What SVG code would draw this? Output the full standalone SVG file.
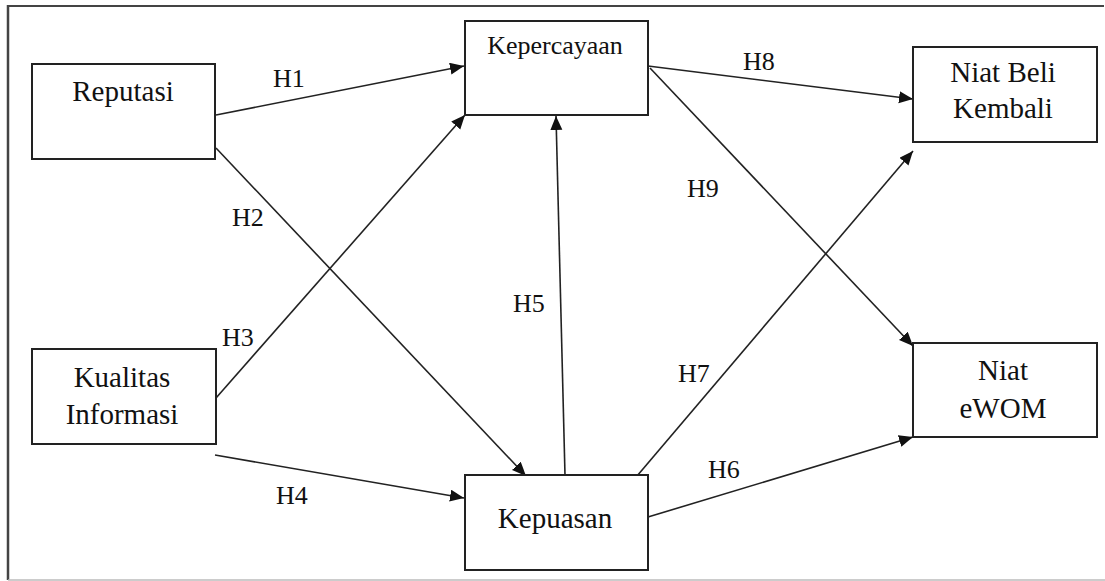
<svg xmlns="http://www.w3.org/2000/svg" width="1105" height="581" viewBox="0 0 1105 581">
<style>
.box{fill:#fff;stroke:#222;stroke-width:2}
text{font-family:'Liberation Serif',Tinos,'Times New Roman',Times,serif;fill:#111}
.t{font-size:29px;text-anchor:middle}
.lbl{font-size:26px}
.c{stroke:#222;stroke-width:1.6;fill:none;marker-end:url(#ah)}
</style>
<defs>
<marker id="ah" markerUnits="userSpaceOnUse" markerWidth="15" markerHeight="13" refX="14" refY="6" orient="auto">
<path d="M0,0 L14,6 L0,12 z" fill="#111"/>
</marker>
</defs>
<rect width="1105" height="581" fill="#fff"/>
<g id="frame">
<line x1="8" y1="6" x2="1104" y2="6" stroke="#444" stroke-width="2"/>
<line x1="8" y1="5" x2="8" y2="580" stroke="#444" stroke-width="2.5"/>
<line x1="8" y1="580" x2="1105" y2="580" stroke="#bbb" stroke-width="1.5"/>
</g>
<g id="connectors">
<line class="c" x1="216" y1="115" x2="464" y2="66"/>
<line class="c" x1="216" y1="148" x2="526" y2="476"/>
<line class="c" x1="216" y1="398" x2="465" y2="115"/>
<line class="c" x1="215" y1="455" x2="464" y2="498"/>
<line class="c" x1="565" y1="475" x2="556" y2="116"/>
<line class="c" x1="648" y1="517" x2="913" y2="437"/>
<line class="c" x1="637" y1="476" x2="913" y2="151"/>
<line class="c" x1="648" y1="66" x2="913" y2="99"/>
<line class="c" x1="650" y1="68" x2="913" y2="346"/>
<text class="lbl" x="273" y="87">H1</text>
<text class="lbl" x="232" y="226">H2</text>
<text class="lbl" x="222" y="346">H3</text>
<text class="lbl" x="276" y="504">H4</text>
<text class="lbl" x="513" y="312">H5</text>
<text class="lbl" x="708" y="478">H6</text>
<text class="lbl" x="678" y="382">H7</text>
<text class="lbl" x="743" y="70">H8</text>
<text class="lbl" x="687" y="197">H9</text>
</g>
<g id="reputasi">
<rect class="box" x="32" y="64" width="183" height="95"/>
<text class="t" x="123" y="101">Reputasi</text>
</g>
<g id="kepercayaan">
<rect class="box" x="465" y="21" width="183" height="94"/>
<text class="t" x="555" y="54" style="font-size:26px">Kepercayaan</text>
</g>
<g id="niat-beli-kembali">
<rect class="box" x="913" y="47" width="184" height="95"/>
<text class="t" x="1003" y="82">Niat Beli</text>
<text class="t" x="1003" y="118">Kembali</text>
</g>
<g id="kualitas-informasi">
<rect class="box" x="32" y="349" width="184" height="95"/>
<text class="t" x="122" y="387">Kualitas</text>
<text class="t" x="122" y="424">Informasi</text>
</g>
<g id="kepuasan">
<rect class="box" x="465" y="475" width="183" height="95"/>
<text class="t" x="555" y="528">Kepuasan</text>
</g>
<g id="niat-ewom">
<rect class="box" x="913" y="343" width="184" height="94"/>
<text class="t" x="1003" y="380">Niat</text>
<text class="t" x="1003" y="418">eWOM</text>
</g>
</svg>
